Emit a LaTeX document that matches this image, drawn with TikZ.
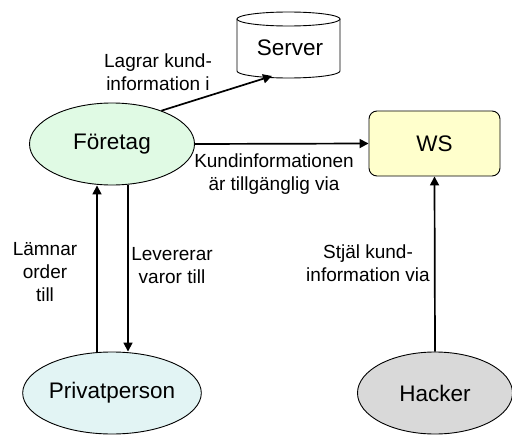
\documentclass[tikz,border=0pt]{standalone}
\usepackage{fontspec}
\setmainfont{Liberation Sans}
\usetikzlibrary{shapes.geometric,arrows.meta}
\definecolor{foretagfill}{RGB}{224,250,228}
\definecolor{privatfill}{RGB}{226,244,244}
\definecolor{wsfill}{RGB}{255,255,204}
\definecolor{hackerfill}{RGB}{217,217,217}
\tikzset{
  ellip/.style={ellipse, draw, line width=0.9pt, inner sep=0pt, font=\fontsize{22.5}{27}\selectfont},
  lbl/.style={align=center, inner sep=0pt, font=\fontsize{19}{23}\selectfont},
  flow/.style={line width=1.7pt, -{Triangle[length=9pt,width=9pt]}}
}

\begin{document}
\begin{tikzpicture}[x=1pt, y=-1pt]
   \useasboundingbox (0,0) rectangle (512,436);
   % \draw[step=20,gray,very thin] (0,0) grid (512,436);
    \node[ellip, fill=foretagfill, minimum width=165pt, minimum height=82pt] (foretag) at (112,144) {Företag};
    \node[ellip, fill=privatfill, minimum width=165pt, minimum height=82pt] (privat) at (112,393) {Privatperson};
    \node[ellip, fill=hackerfill, minimum width=155pt, minimum height=82pt] (hacker) at (435,393) {Hacker};
    \node[draw, line width=0.9pt, fill=wsfill, rounded corners=8pt, minimum width=131pt, minimum height=65pt,
          font=\fontsize{22.5}{27}\selectfont] (ws) at (434.5,143.5) {WS};
    % server cylinder
    \filldraw[line width=0.9pt, fill=white] (237,19) -- (237,71) arc[start angle=180, end angle=0, x radius=51.5, y radius=7] -- (340,19);
    \draw[line width=0.9pt, fill=white] (288.5,19) ellipse[x radius=51.5, y radius=7];
    \node[font=\fontsize{22.5}{27}\selectfont] (server) at (290,48) {Server};
    \coordinate (srvfoot) at (272,76);

    \draw[flow] (foretag.34) -- (srvfoot);
    \draw[flow] (foretag.east) -- (ws.west);
    \draw[flow] ([xshift=-15pt]privat.north) -- ([xshift=-15pt]foretag.south);
    \draw[flow] ([xshift=16pt]foretag.south) -- ([xshift=16pt]privat.north);
    \draw[flow] (hacker.north) -- (ws.south);

    \node[lbl] (lagrar) at (158,72) {Lagrar kund-\\information i};
    \node[lbl] (kundinfo) at (274,174) {Kundinformationen\\är tillgänglig via};
    \node[lbl] (lamnar) at (45,272) {Lämnar\\order\\till};
    \node[lbl] (levererar) at (172,266) {Levererar\\varor till};
    \node[lbl] (stjal) at (368,263) {Stjäl kund-\\information via};
\end{tikzpicture}
\end{document}
